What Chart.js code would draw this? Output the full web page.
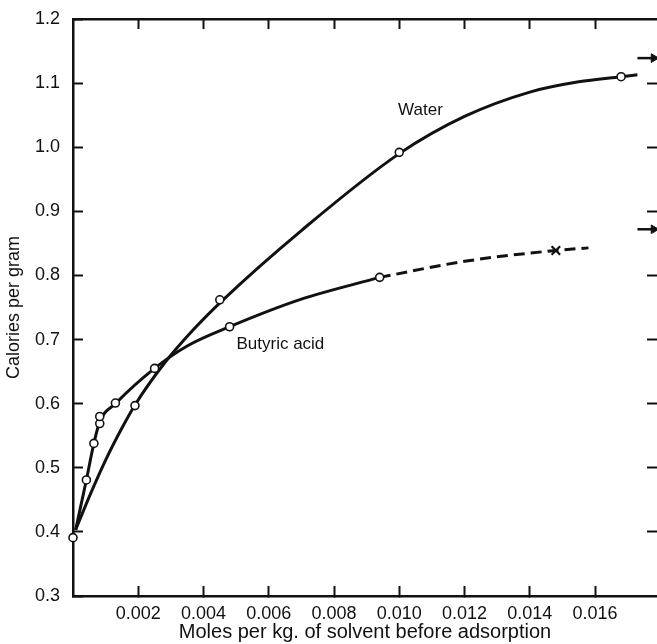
<!DOCTYPE html>
<html>
<head>
<meta charset="utf-8">
<script src="https://cdn.jsdelivr.net/npm/chart.js@4.4.1/dist/chart.umd.min.js"></script>
<style>
  html, body { margin: 0; padding: 0; background: #fff; }
  #wrap { width: 657px; height: 644px; }
</style>
</head>
<body>
<div id="wrap"><canvas id="c" width="657" height="644"></canvas></div>
<script>
// measured points
const waterX = [0, 0.0019, 0.0045, 0.0100, 0.0168];
const waterY = [0.391, 0.597, 0.762, 0.992, 1.110];
const acidX = [0.00041, 0.00064, 0.00082, 0.00082, 0.0013, 0.0025, 0.0048, 0.0094];
const acidY = [0.481, 0.538, 0.569, 0.580, 0.601, 0.655, 0.720, 0.797];
const acidCrossX = [0.0148];
const acidCrossY = [0.839];

// drawn curves
const waterCurveX = [0.00008, 0.0005, 0.001, 0.0015, 0.0019, 0.0028, 0.0037, 0.0046, 0.007, 0.010, 0.012, 0.014, 0.0155, 0.0168, 0.0173];
const waterCurveY = [0.403, 0.455, 0.512, 0.562, 0.598, 0.663, 0.716, 0.762, 0.870, 0.990, 1.048, 1.086, 1.102, 1.110, 1.113];
const acidCurveX = [0.00008, 0.00041, 0.00064, 0.00082, 0.0013, 0.0025, 0.0035, 0.0048, 0.007, 0.0094];
const acidCurveY = [0.403, 0.481, 0.538, 0.572, 0.600, 0.655, 0.690, 0.720, 0.763, 0.797];
const acidDashX = [0.0094, 0.012, 0.0148, 0.0158];
const acidDashY = [0.797, 0.822, 0.839, 0.843];

// limiting values marked by arrows at the right edge
const limitY = [1.139, 0.872];
const arrowX = [0.0173, 0.0178];

const seriesNames = ['Water', 'Butyric acid'];
const labelX = [0.01065, 0.00501];
const labelY = [1.058, 0.692];
const labelAlign = ['center', 'left'];

const xTicks = [0.002, 0.004, 0.006, 0.008, 0.010, 0.012, 0.014, 0.016];
const yTicks = [0.3, 0.4, 0.5, 0.6, 0.7, 0.8, 0.9, 1.0, 1.1, 1.2];

const ink = '#111';
const FONT = '"Liberation Sans", Arial, Helvetica, sans-serif';

const pts = (xs, ys) => xs.map((x, i) => ({ x: x, y: ys[i] }));

const curve = (xs, ys, dash) => ({
  data: pts(xs, ys),
  borderColor: ink,
  borderWidth: 3,
  borderDash: dash || [],
  pointRadius: 0,
  cubicInterpolationMode: 'monotone',
  fill: false,
  order: 2,
});

const marks = (xs, ys, style, r) => ({
  data: pts(xs, ys),
  showLine: false,
  pointStyle: style,
  pointRadius: r,
  borderColor: ink,
  backgroundColor: '#fff',
  pointBorderWidth: style === 'circle' ? 1.6 : 2.2,
  clip: false,
  order: 0,
});

const arrow = (v) => ({
  data: arrowX.map(x => ({ x: x, y: v })),
  borderColor: ink,
  borderWidth: 2.5,
  pointRadius: [0, 5],
  pointStyle: 'triangle',
  rotation: 90,
  backgroundColor: ink,
  pointBorderWidth: 1,
  clip: false,
  order: 1,
});

// inward tick marks on every side
const inwardGrid = { drawOnChartArea: false, drawTicks: true, tickLength: -10, tickWidth: 2, tickColor: ink };

// fixed box size, no extra room for overhanging labels
const fixBox = (w, h) => s => {
  if (w !== null) s.width = w;
  if (h !== null) s.height = h;
  s.paddingTop = s.paddingBottom = s.paddingLeft = s.paddingRight = 0;
};

const textLabels = {
  id: 'textLabels',
  afterDatasetsDraw(chart) {
    const { ctx, scales: { x, y } } = chart;
    ctx.save();
    ctx.font = '17px ' + FONT;
    ctx.fillStyle = ink;
    ctx.textBaseline = 'middle';
    seriesNames.forEach((name, i) => {
      ctx.textAlign = labelAlign[i];
      ctx.fillText(name, x.getPixelForValue(labelX[i]), y.getPixelForValue(labelY[i]));
    });
    ctx.restore();
  }
};

new Chart(document.getElementById('c'), {
  type: 'line',
  data: {
    datasets: [
      curve(waterCurveX, waterCurveY),
      curve(acidCurveX, acidCurveY),
      curve(acidDashX, acidDashY, [11, 6]),
      marks(waterX, waterY, 'circle', 4),
      marks(acidX, acidY, 'circle', 4),
      marks(acidCrossX, acidCrossY, 'crossRot', 6),
      arrow(limitY[0]),
      arrow(limitY[1]),
    ]
  },
  options: {
    responsive: false,
    animation: false,
    events: [],
    layout: { autoPadding: false, padding: { top: 19, right: 0, left: 0, bottom: 0 } },
    plugins: { legend: { display: false }, tooltip: { enabled: false } },
    scales: {
      x: {
        type: 'linear',
        position: 'bottom',
        min: 0,
        max: 0.0179,
        afterBuildTicks: s => { s.ticks = xTicks.map(v => ({ value: v })); },
        afterFit: fixBox(null, 48),
        grid: inwardGrid,
        border: { display: true, color: ink, width: 2.5 },
        ticks: {
          color: ink,
          font: { family: FONT, size: 18 },
          padding: 17,
          autoSkip: false,
          maxRotation: 0,
          callback: v => v.toFixed(3),
        },
        title: {
          display: true,
          text: 'Moles per kg. of solvent before adsorption',
          color: ink,
          font: { family: FONT, size: 20 },
          padding: { top: 0, bottom: 0 },
        },
      },
      xTop: {
        type: 'linear',
        position: 'top',
        min: 0,
        max: 0.0179,
        afterBuildTicks: s => { s.ticks = xTicks.map(v => ({ value: v })); },
        afterFit: fixBox(null, 0),
        grid: inwardGrid,
        border: { display: true, color: ink, width: 2.5 },
        ticks: { display: false },
      },
      y: {
        type: 'linear',
        position: 'left',
        min: 0.3,
        max: 1.2,
        afterBuildTicks: s => { s.ticks = yTicks.map(v => ({ value: v })); },
        afterFit: fixBox(73, null),
        grid: inwardGrid,
        border: { display: true, color: ink, width: 2.5 },
        ticks: {
          color: ink,
          font: { family: FONT, size: 18 },
          padding: 23,
          callback: v => v.toFixed(1),
        },
        title: {
          display: true,
          text: 'Calories per gram',
          color: ink,
          font: { family: FONT, size: 18 },
          padding: { top: 3, bottom: 0 },
        },
      },
      yRight: {
        type: 'linear',
        position: 'right',
        min: 0.3,
        max: 1.2,
        afterBuildTicks: s => { s.ticks = yTicks.slice(1, -1).map(v => ({ value: v })); },
        afterFit: fixBox(0, null),
        grid: inwardGrid,
        border: { display: false },
        ticks: { display: false },
      },
    }
  },
  plugins: [textLabels]
});
</script>
</body>
</html>
